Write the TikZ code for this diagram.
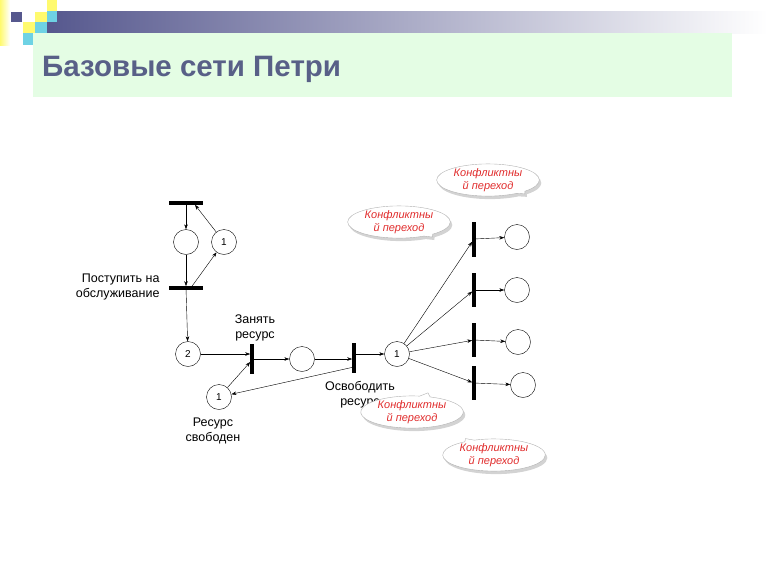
\documentclass[tikz,border=0pt]{standalone}
\usepackage{fontspec}
\setmainfont{Liberation Sans}
\usetikzlibrary{shapes.callouts,shadows,arrows.meta}

\definecolor{barblue}{RGB}{86,88,142}
\definecolor{titleblue}{RGB}{88,96,135}
\definecolor{greenbg}{RGB}{228,253,228}
\definecolor{sqyellow}{RGB}{255,250,110}
\definecolor{sqcyan}{RGB}{110,210,228}
\definecolor{notered}{RGB}{225,45,45}

\begin{document}
\begin{tikzpicture}[x=1pt,y=-1pt,
		every node/.style = {font=\fontsize{12.5}{15}\selectfont},
		plc/.style = {draw,circle,minimum size=25,inner sep=0,font=\fontsize{10}{12}\selectfont},
		hbar/.style = {fill,minimum width=34,minimum height=3.2,inner sep=0},
		vbar/.style = {fill,minimum width=3.2,minimum height=34,inner sep=0},
		conflict/.style = {ellipse callout,draw=gray!60,fill=white,text=notered,align=center,
			inner xsep=2pt,inner ysep=0pt,callout pointer arc=12,font=\fontsize{11}{12.5}\selectfont\itshape,
			drop shadow={shadow xshift=2pt,shadow yshift=-3pt,opacity=0.35}},
		>={Stealth[length=5pt,width=3.5pt]}]

	\useasboundingbox (0,0) rectangle (768,576);

	% header
	\fill[left color=sqyellow,right color=white] (0,0) rectangle (10,45);
	\fill[left color=barblue,right color=white] (47,11) rectangle (768,33);
	\fill[barblue] (11,12) rectangle (22,22);
	\fill[sqyellow] (35,12) rectangle (47,22);
	\fill[sqyellow] (47,0) rectangle (57,11);
	\fill[sqcyan] (47,11) rectangle (57,22);
	\fill[sqyellow] (23,22) rectangle (35,33);
	\fill[sqcyan] (35,22) rectangle (47,33);
	\fill[sqcyan] (23,33) rectangle (33,45);
	\fill[greenbg] (33,33) rectangle (732,97);
	\node[anchor=base west,inner sep=0,text=titleblue,font=\fontsize{29.5}{35}\selectfont\bfseries] (title) at (42,76) {Базовые сети Петри};

	% petri net
	\node[hbar] (t1) at (186,203) {};
	\node[plc] (p1) at (186,242) {};
	\node[plc] (q1) at (224,242) {1};
	\node[hbar] (t2) at (186,288) {};
	\node[plc] (p2) at (188,354) {2};
	\node[vbar,minimum height=30] (ta) at (252,359) {};
	\node[plc] (pe) at (302,359) {};
	\node[vbar,minimum height=30] (tb) at (354,358) {};
	\node[plc] (pc) at (397,354) {1};
	\node[plc] (res) at (219,397) {1};

	\node[vbar,minimum height=35] (c1) at (474,239) {};
	\node[vbar] (c2) at (474,290) {};
	\node[vbar] (c3) at (474,340) {};
	\node[vbar] (c4) at (474,383) {};
	\node[plc] (r1) at (517,237) {};
	\node[plc] (r2) at (517,290) {};
	\node[plc] (r3) at (518,342) {};
	\node[plc] (r4) at (523,385) {};

	\draw[->] (t1) -- (p1);
	\draw[->] (p1) -- (t2);
	\draw[->] ([xshift=6pt]t2.north) -- (q1);
	\draw[->] (q1) -- ([xshift=9pt]t1.south);
	\draw[->] (t2) -- (p2);
	\draw[->] (p2) -- (p2 -| ta.west);
	\draw[->] (res) -- ([yshift=-3pt]ta.west);
	\draw[->] (ta) -- (pe);
	\draw[->] (pe) -- (pe -| tb.west);
	\draw[->] ([yshift=-9pt]tb.center) -- (res);
	\draw[->] (tb.east |- pc) -- (pc);
	\foreach \i in {1,...,4}{
		\draw[->] (pc) -- (c\i);
		\draw[->] (c\i) -- (r\i);
	}

	\node[align=right,anchor=east] (lbl1) at (163,287) {Поступить на\\обслуживание};
	\node[align=center] (lbl2) at (255,328) {Занять\\ресурс};
	\node[align=center] (lbl3) at (213,431) {Ресурс\\свободен};
	\node[align=center] (lbl4) at (360,395) {Освободить\\ресурс};

	% conflicts
	\node[conflict,callout relative pointer={(4pt,-1.5pt)}] (k1) at (488,180) {Конфликтны\\й переход};
	\node[conflict,callout relative pointer={(4pt,-1.8pt)}] (k2) at (399,222) {Конфликтны\\й переход};
	\node[conflict,callout relative pointer={(3pt,3.6pt)}] (k3) at (412,412) {Конфликтны\\й переход};
	\node[conflict,callout relative pointer={(-4pt,2.3pt)}] (k4) at (494,455) {Конфликтны\\й переход};

\end{tikzpicture}
\end{document}
